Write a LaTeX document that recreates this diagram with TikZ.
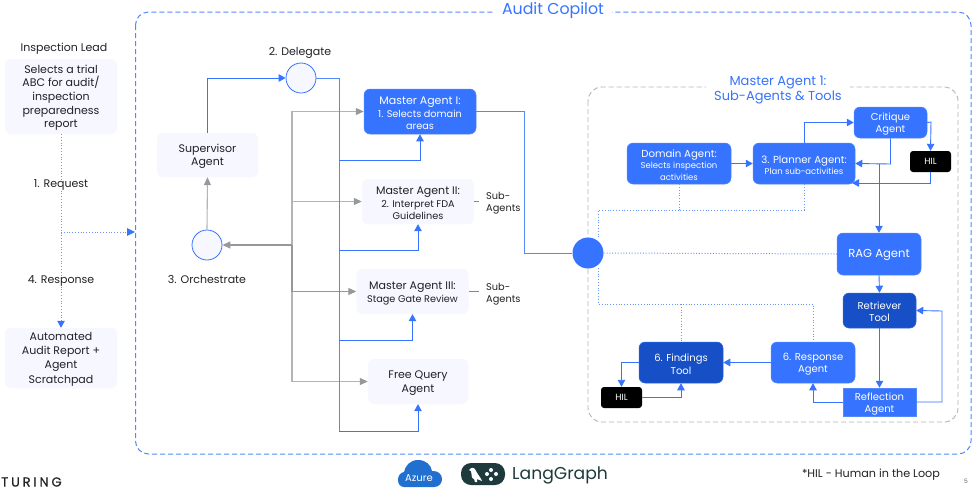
\documentclass[tikz,border=0pt]{standalone}
\usepackage{fontspec}
\setmainfont{Poppins}
\newfontfamily\turingfont[LetterSpace=22,FakeBold=0.5]{Poppins}
\usetikzlibrary{arrows.meta}
\definecolor{blu}{HTML}{3673FF}
\definecolor{dkblu}{HTML}{174FC6}
\definecolor{lav}{HTML}{F6F7FF}
\definecolor{ink}{HTML}{222226}
\definecolor{gry}{HTML}{B4B4B7}
\definecolor{gryd}{HTML}{98989C}
\definecolor{azu}{HTML}{2170D0}
\definecolor{lg}{HTML}{1F3A3C}
\newcommand{\fs}[1]{\fontsize{#1}{#1}\selectfont}
\newcommand{\up}{\rule{0pt}{10.8pt}}
\tikzset{
  x=1pt,y=-1pt,
  box/.style={rounded corners=6pt,inner sep=0pt,align=center,font=\fs{11},text=ink,fill=lav},
  bluebox/.style={box,fill=blu,text=white,draw=blu!85!white,line width=.5pt},
  darkbox/.style={bluebox,fill=dkblu,draw=blu!70!dkblu},
  hilbox/.style={rounded corners=3pt,fill=black,text=white,font=\fs{9},inner sep=0pt,minimum width=41pt,minimum height=21pt},
  lab/.style={font=\fs{11},text=ink,align=center,inner sep=0pt},
  sublab/.style={font=\fs{9.8},text=ink,align=left,inner sep=0pt,anchor=west},
  bline/.style={draw=blu,line width=.9pt,-{Triangle[length=7pt,width=7.5pt]}},
  bplain/.style={draw=blu!85!white,line width=1pt},
  gline/.style={draw=gry,line width=1.1pt,-{Triangle[length=8pt,width=7pt,fill=gryd,color=gryd]}},
  gdark/.style={draw=gryd,line width=1.1pt},
  dots/.style={draw=blu!75!white,line width=1pt,dash pattern=on 1pt off 1.8pt},
  hubc/.style={circle,draw=blu,line width=.8pt,fill=lav,minimum size=30pt,inner sep=0pt},
}
\begin{document}
\begin{tikzpicture}
\useasboundingbox (0,0) rectangle (978,496);
\fill[white] (0,0) rectangle (978,496);
% frames
\draw[blu!85!white,line width=1pt,dash pattern=on 5pt off 3pt,rounded corners=13pt] (135.5,12) rectangle (971,454);
\node[fill=white,font=\fs{15.8},text=blu,inner xsep=8pt,inner ysep=1pt] (title) at (553,11) {Audit Copilot};
\draw[gry,line width=.9pt,dash pattern=on 5pt off 3pt,rounded corners=14pt] (588,87) rectangle (958,422);
\node[fill=white,font=\fs{13},text=blu,align=center,inner xsep=8pt,inner ysep=0pt] (subtitle) at (778,90) {Master Agent 1:\\[1pt]Sub-Agents \& Tools};
% left column
\node[lab] (lead) at (64,49) {Inspection Lead};
\node[box,minimum width=112pt,minimum height=75pt] (sel) at (61,96.5) {\up Selects a trial\\[2.7pt]ABC for audit/\\[2.7pt]inspection\\[2.7pt]preparedness\\[2.7pt]report};
\node[lab] (req) at (61,185) {1. Request};
\node[lab] (resp) at (61,281) {4. Response};
\node[box,minimum width=112pt,minimum height=60pt] (auto) at (61,358) {\up Automated\\[2.7pt]Audit Report +\\[2.7pt]Agent\\[2.7pt]Scratchpad};
\coordinate (mid) at (61,232);
\coordinate (edge) at (135,232);
\draw[dots] (sel.south) -- (req.north);
\draw[dots] (req.south) -- (resp.north);
\draw[dots,-{Triangle[length=7pt,width=7.5pt,fill=blu,color=blu]}] (resp.south) -- (auto.north);
\draw[dots,-{Triangle[length=8pt,width=7.5pt,fill=blu,color=blu]}] (mid) -- (edge);
% supervisor
\node[box,minimum width=101pt,minimum height=44pt] (sup) at (207.5,155) {\up Supervisor\\[2.7pt]Agent};
\node[hubc] (del) at (301,78) {};
\node[hubc] (orc) at (207,245) {};
\node[lab] (dellab) at (300,53) {2. Delegate};
\node[lab] (orclab) at (207,279.5) {3. Orchestrate};
% master agents
\node[bluebox,minimum width=112pt,minimum height=45pt] (m1) at (420,111.5) {\up Master Agent I:\\[2pt]{\fs{9.7}1. Selects domain}\\[1.5pt]{\fs{9.7}areas}};
\node[box,minimum width=112pt,minimum height=45pt] (m2) at (418,201.5) {\up Master Agent II:\\[2pt]{\fs{9.7}2. Interpret FDA}\\[1.5pt]{\fs{9.7}Guidelines}};
\node[box,minimum width=112pt,minimum height=45pt] (m3) at (412.5,291.5) {\up Master Agent III:\\[2pt]{\fs{9.7}Stage Gate Review}};
\node[box,minimum width=100pt,minimum height=45pt] (fq) at (418,381.5) {\up Free Query\\[2.7pt]Agent};
\node[sublab] (s2) at (486,201.5) {\up Sub-\\[1.5pt]Agents};
\node[sublab] (s3) at (486,292.5) {\up Sub-\\[1.5pt]Agents};
\coordinate (t2) at (479,201.5);
\coordinate (t3) at (479,291.5);
\draw[bplain] (m2.east) -- (t2);
\draw[bplain] (m3.east) -- (t3);
% gray
\coordinate (gtop) at (292,111.5);
\coordinate (gorc) at (292,245);
\coordinate (gm2) at (292,201.5);
\coordinate (gm3) at (292,291.5);
\coordinate (gfq) at (292,381.5);
\draw[gline] (gfq) -- (gtop) -- (m1.west);
\draw[gline] (gm2) -- (m2.west);
\draw[gline] (gfq) -- (fq.west);
\draw[gdark] (gorc) -- (gm3);
\draw[gline,draw=gryd] (gm3) -- (m3.west);
\draw[gline,draw=gryd] (gorc) -- (orc.east);
\draw[gline] (orc.north) -- (sup.south);
% blue trunk
\coordinate (b0) at (339,78);
\coordinate (b1) at (339,160);
\coordinate (b2) at (339,250);
\coordinate (b3) at (339,340);
\coordinate (b4) at (339,431);
\draw[bline] (sup.north) |- (del.west);
\draw[bplain] (del.east) -- (b0) -- (b4);
\draw[bline] (b1) -| (m1.south);
\draw[bline] (b2) -| (m2.south);
\draw[bline] (b3) -| (m3.south);
\draw[bline] (b4) -| (fq.south);
% hub
\node[circle,fill=blu,minimum size=31pt,inner sep=0pt] (hub) at (588,253) {};
\coordinate (h1) at (524,111.5);
\draw[bplain] (m1.east) -- (h1) |- (hub.west);
% right agents
\node[bluebox,minimum width=104pt,minimum height=41pt,font=\fs{10.2}] (dom) at (679,163.5) {\up Domain Agent:\\[1pt]{\fs{8.5}Selects inspection}\\[1.5pt]{\fs{8.5}activities}};
\node[bluebox,minimum width=102pt,minimum height=41pt,font=\fs{10.2}] (pla) at (804,163.5) {\up 3. Planner Agent:\\[1pt]{\fs{8.5}Plan sub-activities}};
\node[bluebox,minimum width=73pt,minimum height=31pt,font=\fs{10}] (cri) at (890.5,122.5) {\up Critique\\[2pt]Agent};
\node[hilbox] (hil1) at (930.5,161.5) {HIL};
\node[bluebox,minimum width=84pt,minimum height=42pt,font=\fs{11.6}] (rag) at (879,254) {\up RAG Agent};
\node[darkbox,minimum width=73pt,minimum height=35pt,font=\fs{10}] (ret) at (879.5,310.5) {\up Retriever\\[2pt]Tool};
\node[bluebox,rounded corners=0pt,minimum width=73pt,minimum height=28pt,font=\fs{10}] (ref) at (879.5,402) {\up Reflection\\[2pt]Agent};
\node[bluebox,minimum width=84pt,minimum height=41pt,font=\fs{10}] (res) at (813,362.5) {\up 6. Response\\[2pt]Agent};
\node[darkbox,minimum width=84pt,minimum height=41pt,font=\fs{10}] (fin) at (681,362.5) {\up 6. Findings\\[2pt]Tool};
\node[hilbox] (hil2) at (621.5,397.5) {HIL};
% right arrows
\coordinate (c1) at (931,122);
\coordinate (c2) at (890.5,164);
\coordinate (c3) at (930.5,183);
\coordinate (c4) at (852,183);
\coordinate (c5) at (879,164);
\coordinate (c6) at (942,402);
\coordinate (c7) at (942,311);
\draw[bline] (dom.east) -- (pla.west);
\draw[bline] (pla.north) |- (cri.west);
\draw[bline] (cri.east) -- (c1) -- (hil1.north);
\draw[bline] (cri.south) -- (c2) -- (pla.east);
\draw[bline] (hil1.south) -- (c3) -- (c4);
\draw[bline] (c5) -- (rag.north);
\draw[bline] (rag.south) -- (ret.north);
\draw[bline] (ret.south) -- (ref.north);
\draw[bline] (ref.east) -- (c6) -- (c7) -- (ret.east);
\draw[bline] (ref.west) -| (res.south);
\draw[bline] (res.west) -- (fin.east);
\draw[bline] (fin.west) -| (hil2.north);
\draw[bline] (hil2.east) -| (fin.south);
% dotted
\coordinate (d1) at (679,210);
\coordinate (d2) at (804,210);
\coordinate (d3) at (598.5,210);
\coordinate (d4) at (598.5,238);
\coordinate (d5) at (598.5,268);
\coordinate (d6) at (598.5,304);
\coordinate (d7) at (813,304);
\coordinate (d8) at (681,304);
\draw[dots] (dom.south) -- (d1);
\draw[dots] (pla.south) -- (d2) -- (d3) -- (d4);
\draw[dots] (hub.east) -- (rag.west);
\draw[dots] (d5) -- (d6) -- (d7) -- (res.north);
\draw[dots] (d8) -- (fin.north);
% footer
\node[font=\turingfont\fs{13},text=ink,inner sep=0pt,anchor=west] (tur) at (1,482) {TURING};
\fill[azu] (404,487) .. controls (396,487) and (396,473) .. (404,472) .. controls (405,466) and (410,460) .. (418,460) .. controls (426,460) and (431,465) .. (432,471) .. controls (445,470) and (445,487) .. (434,487) -- cycle;
\node[font=\fs{10},text=white,inner sep=0pt] (azure) at (419,478) {Azure};
\fill[lg,rounded corners=10pt] (461,463) rectangle (505,485);
\fill[white] (469,470) .. controls (472,466) and (475,468) .. (476,471) .. controls (478,475) and (481,478) .. (482,481) -- (477,479) -- (477,482) -- (475,482) -- (474,479) .. controls (471,479) and (472,474) .. (471,471) -- cycle;
\fill[white] (491,470) circle (2pt) (487,474) circle (2pt) (496,474) circle (2pt) (491,479) circle (2pt);
\node[font=\fs{17.2},text=lg,inner sep=0pt,anchor=west] (lang) at (512,475.5) {LangGraph};
\node[font=\fs{11.2},text=ink,inner sep=0pt] (note) at (871,474.5) {*HIL - Human in the Loop};
\node[font=\fs{6},text=ink!70!white,inner sep=0pt] (pg) at (966,481) {5};
\end{tikzpicture}
\end{document}
